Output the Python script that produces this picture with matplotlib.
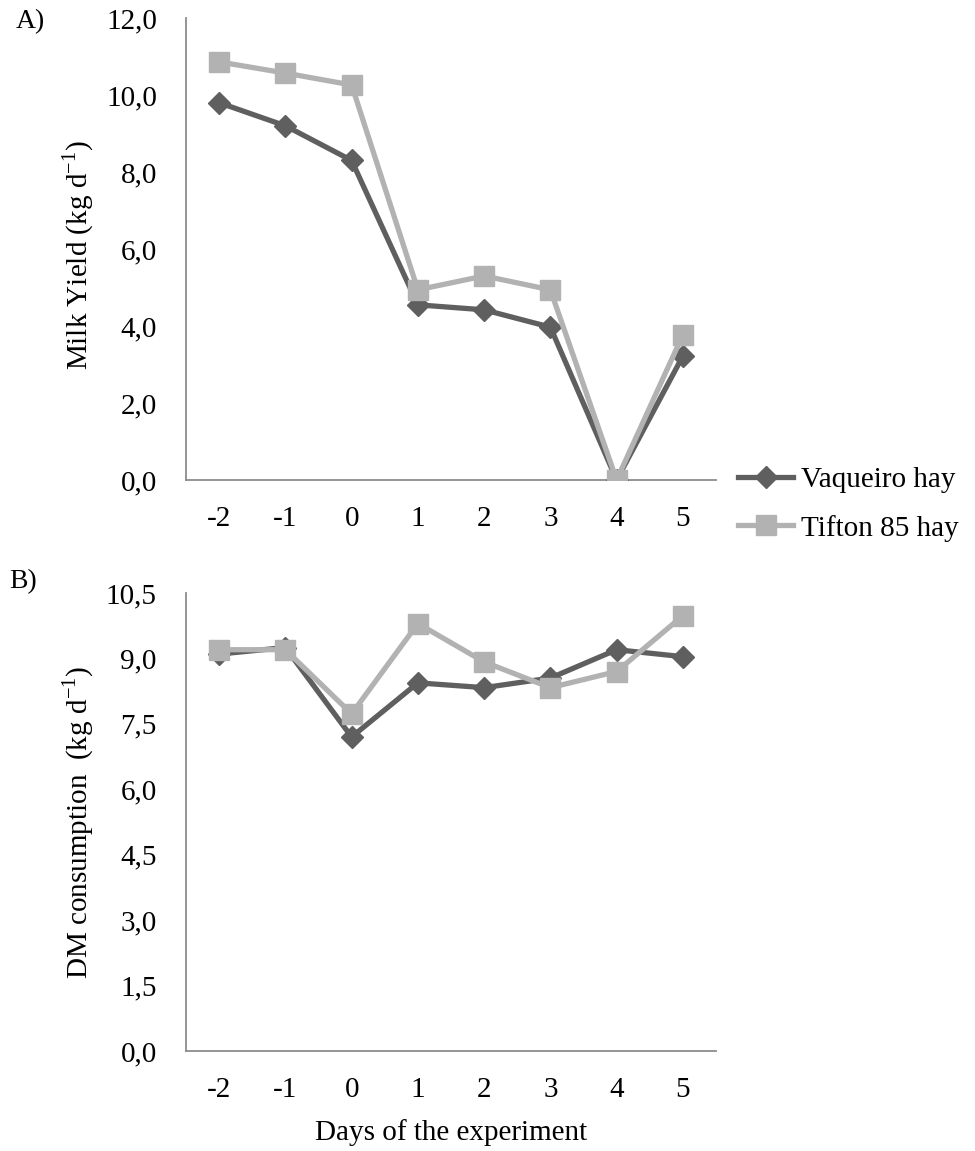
import matplotlib
matplotlib.use("Agg")
import matplotlib.pyplot as plt
from matplotlib.ticker import FuncFormatter, FixedLocator

plt.rcParams['font.family'] = ['Liberation Serif', 'DejaVu Serif']

days = [-2, -1, 0, 1, 2, 3, 4, 5]
day_labels = [str(d) for d in days]

# milk yield (kg/d)
milk_vaqueiro = [9.8, 9.2, 8.3, 4.55, 4.42, 3.97, 0.0, 3.22]
milk_tifton = [10.86, 10.57, 10.26, 4.94, 5.3, 4.94, 0.0, 3.77]

# DM consumption (kg/d)
dm_vaqueiro = [9.1, 9.25, 7.2, 8.44, 8.33, 8.55, 9.2, 9.04]
dm_tifton = [9.2, 9.2, 7.73, 9.8, 8.92, 8.33, 8.7, 9.98]

dark = '#5f5f5f'
light = '#b2b2b2'
axis_col = '#8c8c8c'
fs = 21

fig = plt.figure(figsize=(9.75, 11.51), dpi=100)
axA = fig.add_axes([186/975, 1 - 480/1151, 530/975, 462/1151])
axB = fig.add_axes([186/975, 1 - 1051/1151, 530/975, 458/1151])

comma = FuncFormatter(lambda v, p: f"{v:.1f}".replace('.', ','))
x = list(range(len(days)))

for ax, yv, yt, ymax, yticks in [
        (axA, milk_vaqueiro, milk_tifton, 12.0, [0, 2, 4, 6, 8, 10, 12]),
        (axB, dm_vaqueiro, dm_tifton, 10.5, [0, 1.5, 3, 4.5, 6, 7.5, 9, 10.5])]:
    ax.plot(x, yv, color=dark, lw=3.8, marker='D', ms=11, mec=dark, mfc=dark,
            label='Vaqueiro hay', zorder=3)
    ax.plot(x, yt, color=light, lw=3.8, marker='s', ms=14, mec=light, mfc=light,
            label='Tifton 85 hay', zorder=3)
    ax.set_xlim(-0.5, len(days) - 0.5)
    ax.set_ylim(0, ymax)
    ax.yaxis.set_major_locator(FixedLocator(yticks))
    ax.yaxis.set_major_formatter(comma)
    ax.set_xticks(x)
    ax.set_xticklabels(day_labels)
    for s in ['top', 'right']:
        ax.spines[s].set_visible(False)
    for s in ['left', 'bottom']:
        ax.spines[s].set_color(axis_col)
        ax.spines[s].set_linewidth(1.3)
    ax.tick_params(axis='y', length=0, pad=21, labelsize=fs)
    ax.tick_params(axis='x', length=0, pad=19, labelsize=fs)
    ax.spines['bottom'].set_zorder(2)

fig.text(78/975, 1 - 255/1151, 'Milk Yield (kg d$^{\\mathregular{-1}}$)', rotation=90,
         ha='center', va='center', fontsize=fs)
fig.text(78/975, 1 - 822/1151, 'DM consumption  (kg d$^{\\mathregular{-1}}$)', rotation=90,
         ha='center', va='center', fontsize=fs)
fig.text(451/975, 1 - 1133/1151, 'Days of the experiment', ha='center', va='center',
         fontsize=fs)
fig.text(16/975, 1 - 22/1151, 'A)', ha='left', va='center', fontsize=fs - 1)
fig.text(9/975, 1 - 582/1151, 'B)', ha='left', va='center', fontsize=fs - 1)

h, l = axA.get_legend_handles_labels()
fig.legend(h, l, loc='center left', bbox_to_anchor=(738/975, 1 - 504/1151),
           frameon=False, fontsize=fs, borderpad=0, borderaxespad=0,
           handlelength=1.9, handletextpad=0.25, labelspacing=0.75)

fig.savefig('out.png', dpi=100)
